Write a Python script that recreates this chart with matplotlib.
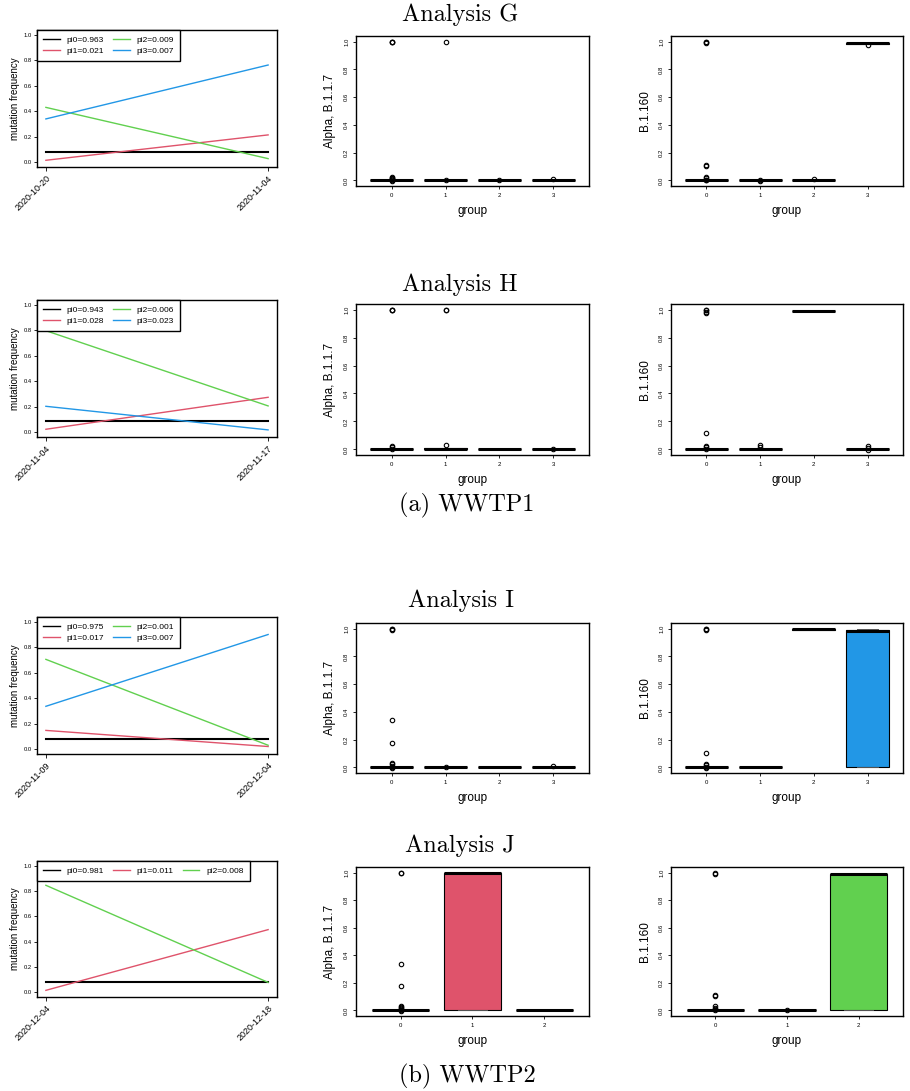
import matplotlib
matplotlib.use('Agg')
import matplotlib.pyplot as plt

plt.rcParams['font.family'] = ['Liberation Sans', 'DejaVu Sans']

PAL = ['#000000', '#DF536B', '#61D04F', '#2297E6']

# ---------------- left panels: mutation frequency lines ----------------
g_dates = ['2020-10-20', '2020-11-04']
g_labels = ['pi0=0.963', 'pi1=0.021', 'pi2=0.009', 'pi3=0.007']
g_freq = [[0.079, 0.079], [0.013, 0.213], [0.430, 0.026], [0.339, 0.764]]

h_dates = ['2020-11-04', '2020-11-17']
h_labels = ['pi0=0.943', 'pi1=0.028', 'pi2=0.006', 'pi3=0.023']
h_freq = [[0.087, 0.087], [0.021, 0.273], [0.798, 0.205], [0.202, 0.016]]

i_dates = ['2020-11-09', '2020-12-04']
i_labels = ['pi0=0.975', 'pi1=0.017', 'pi2=0.001', 'pi3=0.007']
i_freq = [[0.079, 0.079], [0.146, 0.019], [0.706, 0.029], [0.336, 0.902]]

j_dates = ['2020-12-04', '2020-12-18']
j_labels = ['pi0=0.981', 'pi1=0.011', 'pi2=0.008']
j_freq = [[0.076, 0.076], [0.013, 0.495], [0.847, 0.076]]

# ---------------- boxplot stats ----------------
# Analysis G, Alpha
g_a_q1 = [0, 0, 0, 0]
g_a_med = [0, 0, 0, 0]
g_a_q3 = [0.001, 0.002, 0.002, 0.003]
g_a_lo = [0, 0, 0, 0]
g_a_hi = [0.001, 0.002, 0.002, 0.003]
g_a_fl = [[1.0, 0.998, 0.995, 0.025, 0.02, 0.015, 0.01, 0.005, -0.005],
          [0.998, 0.003], [0.006], [0.012]]
# Analysis G, B.1.160
g_b_q1 = [0, 0, 0.001, 0.985]
g_b_med = [0, 0, 0.002, 0.99]
g_b_q3 = [0.001, 0.001, 0.004, 0.993]
g_b_lo = [0, 0, 0.001, 0.985]
g_b_hi = [0.001, 0.001, 0.004, 0.993]
g_b_fl = [[1.0, 0.995, 0.99, 0.112, 0.105, 0.025, 0.015, 0.005, 0.0],
          [0.002, -0.002], [0.008], [0.975]]

# Analysis H, Alpha
h_a_q1 = [0, 0, 0, 0]
h_a_med = [0, 0.002, 0, 0]
h_a_q3 = [0.001, 0.008, 0.001, 0.001]
h_a_lo = [0, 0, 0, 0]
h_a_hi = [0.001, 0.008, 0.001, 0.001]
h_a_fl = [[1.0, 0.998, 0.996, 0.025, 0.015, 0.005],
          [0.998, 0.996, 0.03], [], [0.003]]
# Analysis H, B.1.160
h_b_q1 = [0, 0, 0.988, 0]
h_b_med = [0, 0, 0.99, 0]
h_b_q3 = [0.003, 0.003, 0.992, 0.003]
h_b_lo = [0, 0, 0.988, 0]
h_b_hi = [0.003, 0.003, 0.992, 0.003]
h_b_fl = [[1.0, 0.995, 0.985, 0.975, 0.115, 0.025, 0.015, 0.005],
          [0.03, 0.015], [], [0.025, 0.012, -0.003]]

# Analysis I, Alpha
i_a_q1 = [0, 0, 0, 0]
i_a_med = [0, 0, 0, 0]
i_a_q3 = [0.001, 0.001, 0.001, 0.002]
i_a_lo = [0, 0, 0, 0]
i_a_hi = [0.001, 0.001, 0.001, 0.002]
i_a_fl = [[1.0, 0.997, 0.993, 0.34, 0.175, 0.03, 0.022, 0.012, 0.005, -0.004],
          [0.003], [], [0.013]]
# Analysis I, B.1.160
i_b_q1 = [0, 0, 0.993, 0.0]
i_b_med = [0, 0, 0.995, 0.985]
i_b_q3 = [0.001, 0.001, 0.997, 0.993]
i_b_lo = [0, 0, 0.993, 0.0]
i_b_hi = [0.001, 0.001, 0.997, 0.998]
i_b_fl = [[1.0, 0.995, 0.988, 0.105, 0.025, 0.015, 0.005, -0.005],
          [], [], []]

# Analysis J, Alpha
j_a_q1 = [0, 0.0, 0]
j_a_med = [0, 0.996, 0]
j_a_q3 = [0.001, 0.997, 0.001]
j_a_lo = [0, 0.0, 0]
j_a_hi = [0.001, 0.999, 0.001]
j_a_fl = [[1.0, 0.995, 0.34, 0.175, 0.032, 0.025, 0.018, 0.01, 0.004, -0.004],
          [], []]
# Analysis J, B.1.160
j_b_q1 = [0, 0, 0.0]
j_b_med = [0, 0, 0.99]
j_b_q3 = [0.001, 0.001, 0.992]
j_b_lo = [0, 0, 0.0]
j_b_hi = [0.001, 0.001, 0.998]
j_b_fl = [[1.0, 0.99, 0.112, 0.105, 0.03, 0.02, 0.01, 0.0],
          [0.003], []]

W, H = 910, 1091
fig = plt.figure(figsize=(W / 100, H / 100), dpi=100)


def fr(x0, y0, x1, y1):
    return [x0 / W, 1 - y1 / H, (x1 - x0) / W, (y1 - y0) / H]


def line_panel(rect, dates, labels, freq):
    ax = fig.add_axes(fr(*rect))
    for k, vals in enumerate(freq):
        ax.plot([0, 1], vals, color=PAL[k], lw=1.5 if k == 0 else 1.0,
                label=labels[k])
    ax.set_xlim(-0.04, 1.04)
    ax.set_ylim(-0.04, 1.04)
    ax.set_xticks([0, 1])
    ax.set_xticklabels(dates, rotation=45, ha='right', va='top',
                       rotation_mode='anchor', fontsize=6.5)
    ax.set_yticks([0, 0.2, 0.4, 0.6, 0.8, 1.0])
    ax.set_yticklabels(['0.0', '0.2', '0.4', '0.6', '0.8', '1.0'], fontsize=4.2)
    ax.tick_params(axis='y', length=2, width=0.6, pad=1.5)
    ax.tick_params(axis='x', length=3, width=0.6, pad=2)
    ax.set_ylabel('mutation frequency', fontsize=7, labelpad=3)
    for s in ax.spines.values():
        s.set_linewidth(1.0)
    ncol = 2 if len(labels) == 4 else 3
    leg = ax.legend(loc='upper left', ncol=ncol, fontsize=6, frameon=True,
                    fancybox=False, edgecolor='black', framealpha=1,
                    borderaxespad=0, handlelength=2.0, handletextpad=0.8,
                    columnspacing=1.1, borderpad=0.75, labelspacing=0.35)
    leg.get_frame().set_linewidth(1.0)
    for h in leg.legend_handles:
        h.set_linewidth(1.0)
    return ax


def box_panel(rect, q1, med, q3, lo, hi, fl, ylabel):
    ax = fig.add_axes(fr(*rect))
    n = len(med)
    stats = []
    for i in range(n):
        stats.append(dict(q1=q1[i], med=med[i], q3=q3[i], whislo=lo[i],
                          whishi=hi[i], fliers=fl[i], label=str(i)))
    bp = ax.bxp(stats, positions=list(range(n)), widths=0.8, capwidths=0.4,
                patch_artist=True, showfliers=True,
                boxprops=dict(linewidth=0.8, edgecolor='black'),
                medianprops=dict(color='black', linewidth=2.2,
                                 solid_capstyle='butt'),
                whiskerprops=dict(linestyle='--', linewidth=0.7, color='black'),
                capprops=dict(linewidth=0.7, color='#555555'),
                flierprops=dict(marker='o', markersize=3.2,
                                markerfacecolor='none',
                                markeredgecolor='black', markeredgewidth=0.8))
    for i, patch in enumerate(bp['boxes']):
        patch.set_facecolor(PAL[i])
    ext = 0.04 * n
    ax.set_xlim(-0.5 - ext, n - 0.5 + ext)
    ax.set_ylim(-0.04, 1.04)
    ax.set_xticks(list(range(n)))
    ax.set_xticklabels([str(i) for i in range(n)], fontsize=4.3)
    ax.set_yticks([0, 0.2, 0.4, 0.6, 0.8, 1.0])
    ax.set_yticklabels(['0.0', '0.2', '0.4', '0.6', '0.8', '1.0'],
                       fontsize=4.3, rotation=90, va='center')
    ax.tick_params(length=2.5, width=0.6, pad=2.5)
    ax.set_ylabel(ylabel, fontsize=8.5, labelpad=6)
    ax.set_xlabel('group', fontsize=8.5, labelpad=5)
    for s in ax.spines.values():
        s.set_linewidth(1.0)
    return ax


rows = [
    (30, 167, 36, 186, g_dates, g_labels, g_freq,
     (g_a_q1, g_a_med, g_a_q3, g_a_lo, g_a_hi, g_a_fl),
     (g_b_q1, g_b_med, g_b_q3, g_b_lo, g_b_hi, g_b_fl)),
    (300, 437, 304, 455, h_dates, h_labels, h_freq,
     (h_a_q1, h_a_med, h_a_q3, h_a_lo, h_a_hi, h_a_fl),
     (h_b_q1, h_b_med, h_b_q3, h_b_lo, h_b_hi, h_b_fl)),
    (617, 754, 623, 773, i_dates, i_labels, i_freq,
     (i_a_q1, i_a_med, i_a_q3, i_a_lo, i_a_hi, i_a_fl),
     (i_b_q1, i_b_med, i_b_q3, i_b_lo, i_b_hi, i_b_fl)),
    (861, 997, 867, 1016, j_dates, j_labels, j_freq,
     (j_a_q1, j_a_med, j_a_q3, j_a_lo, j_a_hi, j_a_fl),
     (j_b_q1, j_b_med, j_b_q3, j_b_lo, j_b_hi, j_b_fl)),
]

for (ly0, ly1, by0, by1, dates, labels, freq, a, b) in rows:
    line_panel((37, ly0, 277, ly1), dates, labels, freq)
    box_panel((356, by0, 589, by1), *a, 'Alpha, B.1.1.7')
    box_panel((671, by0, 903, by1), *b, 'B.1.160')

titles = [('Analysis G', 460, 15), ('Analysis H', 460, 285),
          ('(a) WWTP1', 467, 505), ('Analysis I', 461, 601),
          ('Analysis J', 460, 846), ('(b) WWTP2', 467, 1076)]
for t, x, y in titles:
    fig.text(x / W, 1 - y / H, t, fontsize=17.5, family='cmr10',
             ha='center', va='center')

fig.savefig('out.png', dpi=100)
